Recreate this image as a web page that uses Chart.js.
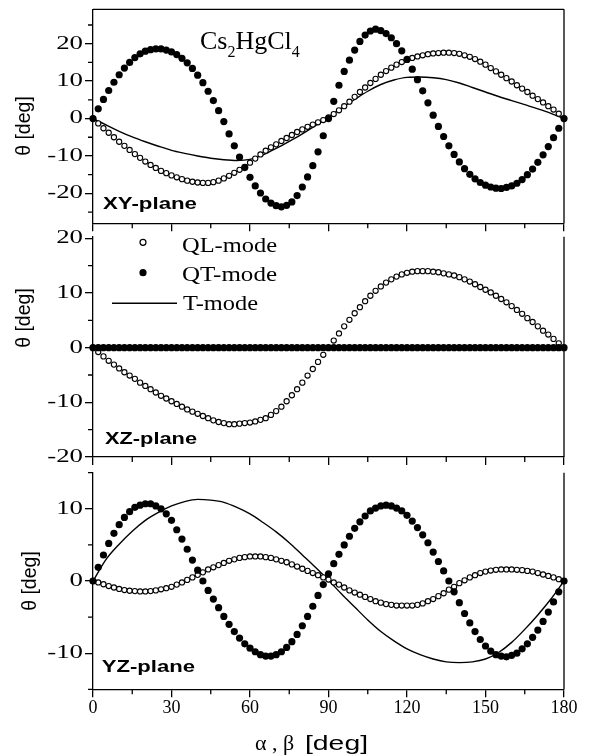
<!DOCTYPE html>
<html>
<head>
<meta charset="utf-8">
<script src="https://cdn.jsdelivr.net/npm/chart.js@4.4.0/dist/chart.umd.min.js"></script>
<style>
  html, body { margin: 0; padding: 0; background: #fff; }
  #wrap { position: relative; width: 593px; height: 755px; overflow: hidden; }
  canvas { position: absolute; left: 0; }
</style>
</head>
<body>
<div id="wrap">
  <canvas id="xy" width="593" height="240" style="top:0px"></canvas>
  <canvas id="xz" width="593" height="240" style="top:228px"></canvas>
  <canvas id="yz" width="593" height="289" style="top:466px"></canvas>
</div>
<script>
const SERIF = "'Liberation Serif', 'Times New Roman', serif";
const SANS = "'Liberation Sans', Arial, sans-serif";

// angles (deg)
const angles2 = [0,2,4,6,8,10,12,14,16,18,20,22,24,26,28,30,32,34,36,38,40,42,44,46,48,50,52,54,56,58,
  60,62,64,66,68,70,72,74,76,78,80,82,84,86,88,90,92,94,96,98,100,102,104,106,108,110,112,114,116,118,
  120,122,124,126,128,130,132,134,136,138,140,142,144,146,148,150,152,154,156,158,160,162,164,166,168,170,
  172,174,176,178,180];
const angles5 = [0,5,10,15,20,25,30,35,40,45,50,55,60,65,70,75,80,85,90,95,100,105,110,115,120,125,130,
  135,140,145,150,155,160,165,170,175,180];

// XY-plane
const xyQL = [0,-1.3,-2.6,-3.8,-5.0,-6.2,-7.3,-8.4,-9.5,-10.5,
  -11.5,-12.4,-13.2,-14.0,-14.6,-15.2,-15.7,-16.2,-16.6,-16.9,
  -17.1,-17.2,-17.2,-17.0,-16.6,-16.0,-15.3,-14.5,-13.7,-12.9,
  -11.8,-10.7,-9.6,-8.6,-7.7,-6.9,-6.0,-5.2,-4.4,-3.6,
  -2.9,-2.2,-1.6,-1.0,-0.4,0.3,1.2,2.2,3.3,4.5,
  5.8,7.1,8.3,9.5,10.6,11.7,12.7,13.6,14.4,15.1,
  15.7,16.2,16.6,16.9,17.2,17.4,17.5,17.6,17.6,17.5,
  17.3,16.9,16.5,15.9,15.2,14.4,13.5,12.6,11.7,10.8,
  9.9,8.9,8.0,7.1,6.1,5.2,4.3,3.3,2.4,1.3,
  0];
const xyQT = [0,2.6,5.1,7.5,9.7,11.7,13.5,15.0,16.3,17.3,
  18.0,18.4,18.6,18.6,18.3,17.8,17.1,16.1,14.9,13.4,
  11.6,9.6,7.3,4.8,2.1,-0.8,-4.1,-7.3,-10.3,-13.1,
  -15.7,-18.0,-19.9,-21.5,-22.6,-23.3,-23.6,-23.2,-22.3,-20.6,
  -18.3,-15.6,-12.6,-8.9,-4.6,0,4.6,8.9,12.6,15.6,
  18.3,20.6,22.3,23.4,23.9,23.5,22.7,21.6,20.0,18.1,
  15.8,13.2,10.4,7.4,4.2,0.9,-2.1,-4.8,-7.3,-9.6,
  -11.6,-13.4,-14.9,-16.1,-17.1,-17.8,-18.3,-18.6,-18.7,-18.4,
  -18.0,-17.3,-16.3,-15.0,-13.5,-11.7,-9.7,-7.5,-5.1,-2.6,
  0];
const xyT = [0,-1.7,-3.4,-4.9,-6.2,-7.4,-8.5,-9.3,-10.0,-10.6,-11.0,-11.2,-10.9,-9.7,-8.0,-6.1,-4.1,-1.9,
  0.4,2.8,5.1,7.3,9.1,10.3,11.0,11.1,10.9,10.4,9.5,8.3,7.1,5.9,4.8,3.7,2.6,1.4,0];

// XZ-plane
const xzQL = [0,-0.8,-1.6,-2.4,-3.1,-3.8,-4.5,-5.1,-5.7,-6.4,
  -7.0,-7.6,-8.2,-8.8,-9.3,-9.8,-10.3,-10.8,-11.3,-11.7,
  -12.1,-12.5,-12.9,-13.3,-13.6,-13.8,-14.0,-14.0,-13.9,-13.8,
  -13.7,-13.5,-13.2,-12.9,-12.3,-11.6,-10.8,-9.8,-8.7,-7.6,
  -6.4,-5.1,-3.9,-2.6,-1.3,0,1.3,2.6,3.9,5.1,
  6.3,7.4,8.5,9.5,10.4,11.2,11.9,12.5,13.0,13.4,
  13.7,13.9,14.0,14.0,14.0,13.9,13.8,13.6,13.4,13.2,
  12.9,12.5,12.1,11.6,11.1,10.6,10.1,9.5,8.9,8.3,
  7.6,6.9,6.2,5.4,4.7,3.9,3.1,2.4,1.6,0.8,
  0];
const xzQT = [0,0,0,0,0,0,0,0,0,0, 0,0,0,0,0,0,0,0,0,0, 0,0,0,0,0,0,0,0,0,0,
  0,0,0,0,0,0,0,0,0,0, 0,0,0,0,0,0,0,0,0,0, 0,0,0,0,0,0,0,0,0,0,
  0,0,0,0,0,0,0,0,0,0, 0,0,0,0,0,0,0,0,0,0, 0,0,0,0,0,0,0,0,0,0, 0];
const xzT = [0,0,0,0,0,0,0,0,0,0,0,0,0,0,0,0,0,0,0,0,0,0,0,0,0,0,0,0,0,0,0,0,0,0,0,0,0];

// YZ-plane
const yzQL = [0,-0.2,-0.45,-0.7,-0.9,-1.1,-1.25,-1.35,-1.4,-1.45,
  -1.45,-1.4,-1.3,-1.15,-1.0,-0.8,-0.5,-0.2,0.15,0.5,
  0.85,1.2,1.6,1.9,2.2,2.5,2.8,3.0,3.2,3.3,
  3.4,3.4,3.4,3.3,3.2,3.0,2.8,2.6,2.3,2.0,
  1.7,1.4,1.1,0.8,0.5,0.2,-0.2,-0.5,-0.9,-1.3,
  -1.6,-1.9,-2.2,-2.5,-2.8,-3.0,-3.2,-3.3,-3.4,-3.4,
  -3.4,-3.4,-3.3,-3.1,-2.8,-2.5,-2.1,-1.7,-1.2,-0.8,
  -0.3,0.1,0.5,0.8,1.1,1.3,1.45,1.55,1.6,1.6,
  1.6,1.55,1.5,1.4,1.3,1.1,0.9,0.7,0.5,0.25,
  0];
const yzQT = [0,1.9,3.6,5.2,6.6,7.8,8.8,9.6,10.2,10.5,
  10.7,10.7,10.4,10.0,9.3,8.4,7.1,5.8,4.4,2.9,
  1.5,0,-1.3,-2.5,-3.7,-4.9,-6.0,-7.0,-7.9,-8.7,
  -9.3,-9.8,-10.2,-10.4,-10.4,-10.2,-9.8,-9.2,-8.4,-7.4,
  -6.2,-4.9,-3.5,-2.0,-0.5,1.0,2.4,3.7,5.0,6.2,
  7.3,8.2,9.0,9.7,10.1,10.4,10.5,10.4,10.1,9.7,
  9.1,8.3,7.4,6.4,5.3,4.0,2.7,1.4,0,-1.5,
  -3.0,-4.5,-5.8,-7.0,-8.1,-9.0,-9.7,-10.2,-10.4,-10.5,
  -10.3,-10.0,-9.4,-8.7,-7.8,-6.8,-5.6,-4.3,-2.9,-1.5,
  0];
const yzT = [0,3.0,5.1,6.9,8.4,9.5,10.4,11.0,11.3,11.2,10.9,10.2,9.3,8.1,6.8,5.3,3.6,1.9,
  0.1,-1.8,-3.6,-5.4,-7.0,-8.3,-9.4,-10.2,-10.8,-11.2,-11.3,-11.2,-10.8,-9.9,-8.5,-6.7,-4.7,-2.5,0];

// ticks
const xTicks = [0, 30, 60, 90, 120, 150, 180];
const xMinor = [15, 45, 75, 105, 135, 165];
const yTicksXY = [-20, -10, 0, 10, 20];
const yMinorXY = [-25, -15, -5, 5, 15, 25];
const yTicksXZ = [-20, -10, 0, 10, 20];
const yMinorXZ = [-15, -5, 5, 15];
const yTicksYZ = [-10, 0, 10];
const yMinorYZ = [-15, -5, 5, 15];

const pts = (xs, ys) => xs.map((x, i) => ({ x: x, y: ys[i] }));

function openDots(ys) {
  return { data: pts(angles2, ys), showLine: false, clip: false,
    pointRadius: 2.6, pointBorderWidth: 1.1, pointBackgroundColor: '#fff', pointBorderColor: '#000' };
}
function fullDots(ys) {
  return { data: pts(angles2, ys), showLine: false, clip: false,
    pointRadius: 3.6, pointBorderWidth: 0, pointBackgroundColor: '#000', pointBorderColor: '#000' };
}
function tLine(ys) {
  return { data: pts(angles5, ys), showLine: true, clip: false, borderColor: '#000', borderWidth: 1.4,
    pointRadius: 0, cubicInterpolationMode: 'monotone' };
}

function label(ctx, text, x, y, font, sx, align, base) {
  ctx.save();
  ctx.font = font;
  ctx.textAlign = align || 'left';
  ctx.textBaseline = base || 'alphabetic';
  ctx.translate(x, y);
  ctx.scale(sx, 1);
  ctx.fillText(text, 0, 0);
  ctx.restore();
}
function fitLabel(ctx, text, x, y, font, width) {
  ctx.save();
  ctx.font = font;
  const w = ctx.measureText(text).width;
  ctx.restore();
  label(ctx, text, x, y, font, width / w);
}

function decor(p) {
  return {
    id: 'decor_' + p.id,
    afterDraw(chart) {
      const ctx = chart.ctx, a = chart.chartArea;
      const xs = chart.scales.x, ys = chart.scales.y;
      ctx.save();
      ctx.strokeStyle = '#000';
      ctx.fillStyle = '#000';
      ctx.lineWidth = 1.3;
      ctx.beginPath();
      ctx.moveTo(a.right, a.top); ctx.lineTo(a.right, a.bottom);
      if (p.boxTop) { ctx.moveTo(a.left, a.top); ctx.lineTo(a.right, a.top); }
      xMinor.forEach(v => {
        const px = xs.getPixelForValue(v);
        ctx.moveTo(px, a.bottom); ctx.lineTo(px, a.bottom + 5);
      });
      p.yMinor.forEach(v => {
        const py = ys.getPixelForValue(v);
        ctx.moveTo(a.left, py); ctx.lineTo(a.left - 5, py);
      });
      ctx.stroke();
      p.yTicks.forEach(v => {
        label(ctx, String(v), a.left - 10, ys.getPixelForValue(v), '18.5px ' + SERIF, 1.45, 'right', 'middle');
      });
      // page coordinates from here
      ctx.translate(0, -p.top);
      ctx.save();
      ctx.translate(p.titleX, p.titleY);
      ctx.rotate(-Math.PI / 2);
      label(ctx, 'θ [deg]', 0, 0, '19.5px ' + SANS, 1, 'center', 'middle');
      ctx.restore();
      p.extra(ctx);
      ctx.restore();
    }
  };
}

function buildPanel(p) {
  return new Chart(document.getElementById(p.id), {
    type: 'scatter',
    data: { datasets: p.datasets },
    options: {
      responsive: false,
      animation: false,
      devicePixelRatio: 1,
      events: [],
      layout: { padding: { top: p.padTop, right: 29, bottom: 0, left: 0 } },
      plugins: { legend: { display: false }, tooltip: { enabled: false } },
      scales: {
        x: {
          type: 'linear', min: 0, max: 180,
          afterBuildTicks: s => { s.ticks = xTicks.map(v => ({ value: v })); },
          afterFit: s => { s.height = p.xh; },
          grid: { drawOnChartArea: false, drawTicks: true, tickLength: 8, color: '#000', lineWidth: 1.3 },
          border: { display: true, color: '#000', width: 1.3 },
          ticks: { display: p.xLabels, color: '#000', font: { family: SERIF, size: 18 },
            padding: 0, maxRotation: 0, autoSkip: false }
        },
        y: {
          type: 'linear', min: p.yMin, max: p.yMax,
          afterBuildTicks: s => { s.ticks = p.yTicks.map(v => ({ value: v })); },
          afterFit: s => { s.width = 93; },
          grid: { drawOnChartArea: false, drawTicks: true, tickLength: 8, color: '#000', lineWidth: 1.3 },
          border: { display: true, color: '#000', width: 1.3 },
          ticks: { display: false }
        }
      }
    },
    plugins: [decor(p)]
  });
}

buildPanel({
  id: 'xy', top: 0, padTop: 9.3, xh: 16.7, xLabels: false, boxTop: true,
  yMin: -28, yMax: 29.2, yTicks: yTicksXY, yMinor: yMinorXY, titleX: 25, titleY: 126,
  datasets: [fullDots(xyQT), openDots(xyQL), tLine(xyT)],
  extra(ctx) {
    fitLabel(ctx, 'XY-plane', 103, 208.5, 'bold 17px ' + SANS, 94);
    const parts = [['Cs', false], ['2', true], ['HgCl', false], ['4', true]];
    let x = 200;
    parts.forEach(([t, sub]) => {
      ctx.font = (sub ? '16px ' : '26px ') + SERIF;
      ctx.textAlign = 'left';
      ctx.textBaseline = 'alphabetic';
      ctx.fillText(t, x, sub ? 57 : 49);
      x += ctx.measureText(t).width;
    });
  }
});

buildPanel({
  id: 'xz', top: 228, padTop: 8.7, xh: 11, xLabels: false, boxTop: false,
  yMin: -20, yMax: 20.3, yTicks: yTicksXZ, yMinor: yMinorXZ, titleX: 25, titleY: 318,
  datasets: [fullDots(xzQT), openDots(xzQL), tLine(xzT)],
  extra(ctx) {
    fitLabel(ctx, 'XZ-plane', 105, 443.5, 'bold 17px ' + SANS, 92);
    // legend
    ctx.lineWidth = 1.2;
    ctx.beginPath(); ctx.arc(143, 242.3, 3, 0, Math.PI * 2); ctx.stroke();
    ctx.beginPath(); ctx.arc(143, 272.7, 3.6, 0, Math.PI * 2); ctx.fill();
    ctx.lineWidth = 1.4;
    ctx.beginPath(); ctx.moveTo(112, 303.3); ctx.lineTo(177, 303.3); ctx.stroke();
    fitLabel(ctx, 'QL-mode', 182, 251.5, '20px ' + SERIF, 95);
    fitLabel(ctx, 'QT-mode', 182, 280.5, '20px ' + SERIF, 95);
    fitLabel(ctx, 'T-mode', 183, 310, '20px ' + SERIF, 75);
  }
});

buildPanel({
  id: 'yz', top: 466, padTop: 6.7, xh: 65.7, xLabels: true, boxTop: false,
  yMin: -15, yMax: 15, yTicks: yTicksYZ, yMinor: yMinorYZ, titleX: 31, titleY: 581,
  datasets: [fullDots(yzQT), openDots(yzQL), tLine(yzT)],
  extra(ctx) {
    fitLabel(ctx, 'YZ-plane', 101.7, 671.7, 'bold 17px ' + SANS, 93.3);
    label(ctx, 'α , β', 255, 750, '22px ' + SERIF, 1, 'left', 'alphabetic');
    fitLabel(ctx, '[deg]', 305, 750, '20px ' + SANS, 63);
  }
});
</script>
</body>
</html>
